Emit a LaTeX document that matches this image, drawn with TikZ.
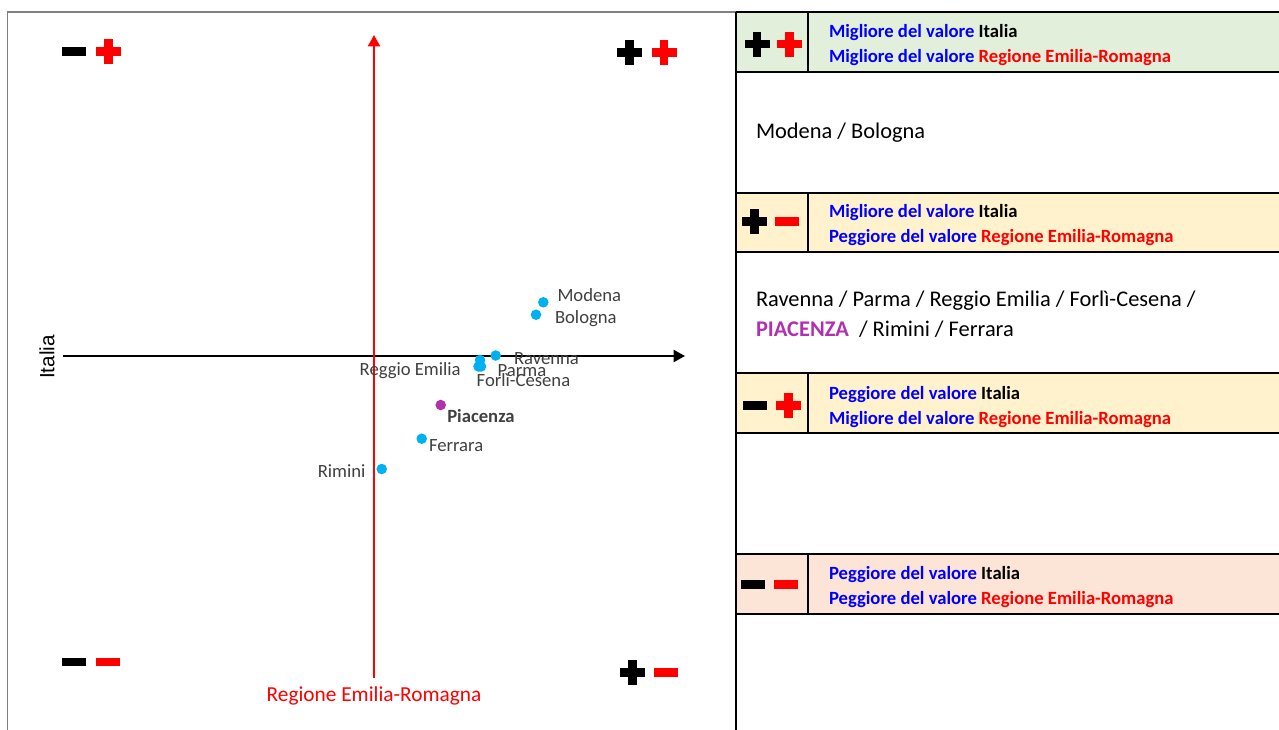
\documentclass[tikz,border=0pt]{standalone}
\usepackage{fontspec}
\setmainfont{Carlito}
\newfontfamily\arialfont{Liberation Sans}
\usepackage{xcolor}
\definecolor{rowgreen}{RGB}{226,239,218}
\definecolor{rowyellow}{RGB}{255,242,204}
\definecolor{rowpink}{RGB}{252,228,214}
\definecolor{framegray}{RGB}{128,128,128}
\usetikzlibrary{arrows.meta}

\begin{document}
\begin{tikzpicture}[x=0.75pt, y=-0.75pt,
    every node/.style={inner sep=0pt, outer sep=0pt},
    dot/.style={circle, minimum size=7.9pt, fill=dotblue},
    ptlabel/.style={font=\fontsize{14}{16}\selectfont, text=labelgray, text height=9pt, text depth=0pt},
    headtext/.style={font=\bfseries\fontsize{14}{18.75}\selectfont, align=left, anchor=west},
    bodytext/.style={font=\fontsize{16.8}{22.5}\selectfont, align=left, anchor=west},
    rowline/.style={black, line width=1.5pt},
    axis/.style={line width=1.5pt, -{Triangle[length=8.5pt, width=9pt]}},
    plusicon/.pic={\fill (-12.5,-4.2) rectangle (12.5,4.2); \fill (-4.2,-12.5) rectangle (4.2,12.5);},
    minusicon/.pic={\fill (-12,-4.3) rectangle (12,4.3);}]
    % 点的颜色定义(蓝色为各省,紫色为 Piacenza)
    \definecolor{dotblue}{RGB}{0,176,240}
    \definecolor{dotpurple}{RGB}{176,48,176}
    \definecolor{labelgray}{RGB}{64,64,64}
    \useasboundingbox (0,0) rectangle (1279,729);
    % 图区外框(灰色)
    \draw[framegray, line width=1.1pt] (7.5,735) -- (7.5,12) -- (736,12);
    % 四角的正负号
    \pic[black] at (73.5,51.3) {minusicon};
    \pic[red] at (108.5,51.3) {plusicon};
    \pic[black] at (629.5,52.5) {plusicon};
    \pic[red] at (664,52.5) {plusicon};
    \pic[black] at (73.5,662) {minusicon};
    \pic[red] at (107.5,662) {minusicon};
    \pic[black] at (632.5,672.5) {plusicon};
    \pic[red] at (666,672.5) {minusicon};
    % 坐标轴:横轴 Italia,纵轴 Regione
    \coordinate (xtail) at (63,356);
    \coordinate (xhead) at (685,356);
    \coordinate (ytail) at (374,678);
    \coordinate (yhead) at (374,35);
    \draw[axis, black] (xtail) -- (xhead);
    \draw[axis, red] (ytail) -- (yhead);
    \node[font=\arialfont\fontsize{15.5}{17}\selectfont, rotate=90] (italia) at (47,357) {Italia};
    \node[font=\fontsize{16}{18}\selectfont, text=red, text height=10.3pt, text depth=0pt] (regione) at (374,695) {Regione Emilia-Romagna};
    % 散点与标签
    \node[dot] (modena) at (543.3,302.3) {};
    \node[dot] (bologna) at (536,314.7) {};
    \node[dot] (ravenna) at (495.7,355.5) {};
    \node[dot] (reggio) at (480,360) {};
    \node[dot] (parma) at (481,366.5) {};
    \node[dot] (forli) at (478.5,366.5) {};
    \node[dot, fill=dotpurple] (piacenza) at (440.7,405) {};
    \node[dot] (ferrara) at (421.7,438.7) {};
    \node[dot] (rimini) at (381.7,469) {};
    \node[ptlabel, anchor=west] (lab-modena) at (557.5,295.3) {Modena};
    \node[ptlabel, anchor=west] (lab-bologna) at (555,317.3) {Bologna};
    \node[ptlabel, anchor=west] (lab-ravenna) at (514,358.7) {Ravenna};
    \node[ptlabel, anchor=west] (lab-parma) at (497.7,370.7) {Parma};
    \node[ptlabel, anchor=west] (lab-forli) at (476.7,380.3) {Forlì-Cesena};
    \node[ptlabel, anchor=east] (lab-reggio) at (460.7,369.3) {Reggio Emilia};
    \node[ptlabel, anchor=west, font=\bfseries\fontsize{14}{16}\selectfont] (lab-piacenza) at (447.3,416.3) {Piacenza};
    \node[ptlabel, anchor=west] (lab-ferrara) at (429,445) {Ferrara};
    \node[ptlabel, anchor=east] (lab-rimini) at (365.5,471) {Rimini};
    % 右侧表格:底色
    \fill[rowgreen] (736,12) rectangle (1279,72);
    \fill[rowyellow] (736,193) rectangle (1279,252);
    \fill[rowyellow] (736,373) rectangle (1279,433);
    \fill[rowpink] (736,554) rectangle (1279,614);
    % 表格线
    \draw[rowline] (736,12) -- (1279,12);
    \draw[rowline] (736,72) -- (1279,72);
    \draw[rowline] (736,193) -- (1279,193);
    \draw[rowline] (736,252) -- (1279,252);
    \draw[rowline] (736,373) -- (1279,373);
    \draw[rowline] (736,433) -- (1279,433);
    \draw[rowline] (736,554) -- (1279,554);
    \draw[rowline] (736,614) -- (1279,614);
    \draw[rowline] (736,12) -- (736,735);
    \draw[rowline] (808,12) -- (808,72);
    \draw[rowline] (808,193) -- (808,252);
    \draw[rowline] (808,373) -- (808,433);
    \draw[rowline] (808,554) -- (808,614);
    % 表头中的正负号
    \pic[black] at (757,44) {plusicon};
    \pic[red] at (789.5,44) {plusicon};
    \pic[black] at (754.5,221.5) {plusicon};
    \pic[red] at (786.7,221.5) {minusicon};
    \pic[black] at (754.5,405.3) {minusicon};
    \pic[red] at (788.3,405.3) {plusicon};
    \pic[black] at (753.3,584.3) {minusicon};
    \pic[red] at (785.7,584.3) {minusicon};
    % 表头文字
    \node[headtext] (head-pp) at (829,45.4) {{\color{blue}Migliore del valore} Italia\\{\color{blue}Migliore del valore} {\color{red}Regione Emilia-Romagna}};
    \node[headtext] (head-pm) at (829,225.5) {{\color{blue}Migliore del valore} Italia\\{\color{blue}Peggiore del valore} {\color{red}Regione Emilia-Romagna}};
    \node[headtext] (head-mp) at (829,406.8) {{\color{blue}Peggiore del valore} Italia\\{\color{blue}Migliore del valore} {\color{red}Regione Emilia-Romagna}};
    \node[headtext] (head-mm) at (829,586.8) {{\color{blue}Peggiore del valore} Italia\\{\color{blue}Peggiore del valore} {\color{red}Regione Emilia-Romagna}};
    % 表格内容
    \node[bodytext] (body-pp) at (756,133) {Modena / Bologna};
    \node[bodytext] (body-pm) at (756,314) {Ravenna / Parma / Reggio Emilia / Forlì-Cesena /\\{\bfseries\color{dotpurple}PIACENZA}\ \ / Rimini / Ferrara};
\end{tikzpicture}
\end{document}
